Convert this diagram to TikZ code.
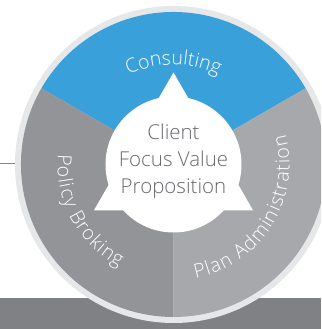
\documentclass[tikz,border=0pt]{standalone}
\usepackage{fontspec}
\setmainfont{Open Sans}[UprightFont=* Light]
\usetikzlibrary{decorations.text}
\definecolor{cblue}{RGB}{57,160,218}
\definecolor{cgrayL}{RGB}{147,148,152}
\definecolor{cgrayR}{RGB}{167,168,172}
\definecolor{cbar}{RGB}{128,129,133}
\definecolor{cring}{RGB}{230,231,232}
\definecolor{ctext}{RGB}{105,106,110}
\tikzset{
  arctext/.style={decorate, decoration={text along path, text align=center,
      text={|\fontsize{19.5}{22}\selectfont\color{white}|#1}}},
  sidetext/.style={decorate, decoration={text along path, text align=fit to path,
      text={|\fontsize{19.5}{22}\selectfont\color{white}|#1}}}
}
\begin{document}
\begin{tikzpicture}[x=1pt,y=1pt]
\useasboundingbox (-173.5,-164.5) rectangle (147.5,164.5);
\clip (-173.5,-164.5) rectangle (147.5,164.5);
\fill[cbar] (-173.5,-164.5) rectangle (147.5,-133.5);
\node[circle, fill=cring, minimum size=317pt, inner sep=0pt] (ring) at (0,0) {};
\fill[cblue] (0,0) -- (30:152.5) arc (30:150:152.5) -- cycle;
\fill[cgrayL] (0,0) -- (150:152.5) arc (150:270:152.5) -- cycle;
\fill[cgrayR] (0,0) -- (270:152.5) arc (270:390:152.5) -- cycle;
\fill[white] (0,0) circle (68);
\fill[white] (90:92) -- (210:92) -- (330:92) -- cycle;
\path[arctext={Consulting}] (150:100) arc (150:30:100);
\path[sidetext={Policy Broking}] (175:116) arc (175:242:116);
\path[sidetext={Plan Administration}] (281:116) arc (281:375:116);
\node[align=center, font=\fontsize{20.5}{27}\selectfont, text=ctext, inner sep=0pt] (center) at (0,3) {Client\\Focus Value\\Proposition};
\coordinate (lend) at (-173.5,1.2);
\draw[cblue, line width=1.2pt] (lend) -- (lend -| ring.west);
\end{tikzpicture}
\end{document}
